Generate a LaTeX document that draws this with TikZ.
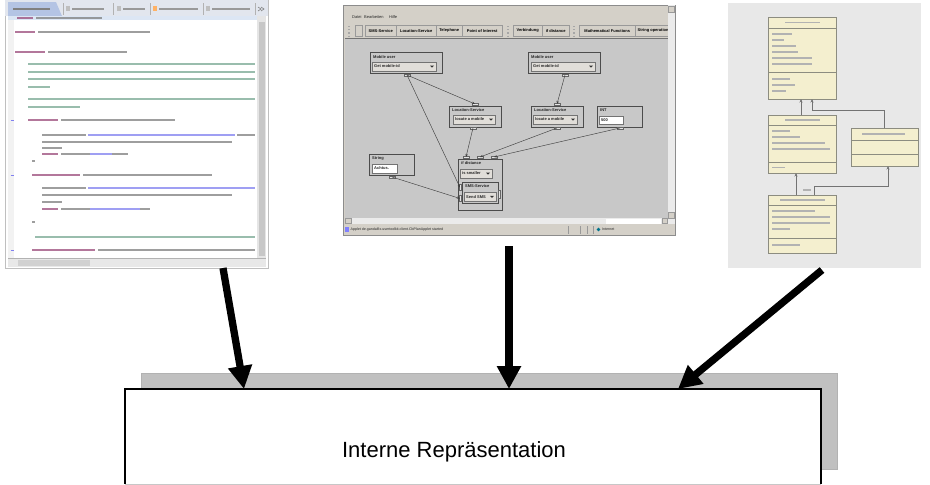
\documentclass[tikz,border=0pt]{standalone}
\usepackage{fontspec}
\setmainfont{Liberation Sans}
\usetikzlibrary{arrows.meta,calc}
\definecolor{cPur}{HTML}{9A4A7A}
\definecolor{cBlk}{HTML}{7E7E7E}
\definecolor{cGrn}{HTML}{78A892}
\definecolor{cBlu}{HTML}{8080F0}
\definecolor{winGray}{HTML}{D4D0C8}
\definecolor{canvasGray}{HTML}{C8C8C8}
\definecolor{umlFill}{HTML}{F4EFCF}
\definecolor{umlLine}{HTML}{8C8C80}
\definecolor{umlBg}{HTML}{E8E8E8}
\definecolor{shadowGray}{HTML}{C0C0C0}
\definecolor{tabBar}{HTML}{E2E6EE}
\definecolor{tabActive}{HTML}{B4C4E4}
\definecolor{editStrip}{HTML}{DCE6F4}
\newcommand\cbar[4]{\draw[codebar,#1] (#2,#4) -- (#3,#4);}
\newcommand\ubar[3]{\draw[umlbar] (#1,#3) -- (#2,#3);}
\newcommand\appcombo[6]{%
  \draw[combo] (#2,#3) rectangle (#4,#5);
  \node[tiny] (#1) at (#2+2,{(#3+#5)/2}) {#6};
  \fill[black!80] (#4-6,{(#3+#5)/2-1}) -- (#4-2,{(#3+#5)/2-1}) -- (#4-4,{(#3+#5)/2+1.2}) -- cycle;}
\begin{document}
\begin{tikzpicture}[x=1pt,y=-1pt,
  codebar/.style={line width=2pt, opacity=.75},
  tiny/.style={font=\fontsize{4}{4.5}\selectfont\bfseries, inner sep=0pt, anchor=west, text=black!85},
  abox/.style={draw=black!70, line width=0.8pt, fill=canvasGray, inner sep=0pt, outer sep=0pt, anchor=north west},
  combo/.style={draw=black!55, line width=0.4pt, fill=winGray!70!white},
  field/.style={draw=black!55, line width=0.4pt, fill=white},
  btn/.style={draw=black!40, line width=0.4pt, fill=winGray, inner sep=0pt, minimum height=11pt, anchor=north west, font=\fontsize{4}{4.5}\selectfont\bfseries},
  port/.style={draw=black!60, line width=0.3pt, fill=black!10},
  wire/.style={draw=black!75, line width=0.45pt, -{Stealth[length=3pt,width=2.4pt]}},
  umlbox/.style={draw=umlLine, line width=0.7pt, fill=umlFill, inner sep=0pt, outer sep=0pt, anchor=north west},
  umlbar/.style={line width=1.5pt, color=black!30},
  umlwire/.style={draw=black!55, line width=0.8pt, -{Stealth[length=3.5pt,width=3pt]}},
  bigarrow/.style={line width=7.3pt, -{Triangle[width=23pt,length=23pt]}},
  shot/.style={inner sep=0pt, outer sep=0pt, anchor=north west}]
\useasboundingbox (0,0) rectangle (930,485);
\begin{scope}
\clip (0,0) rectangle (930,485);
\fill[white] (0,0) rectangle (930,485);

% ================= left screenshot: code editor =================
\node[shot, draw=black!25, fill=white, minimum width=263pt, minimum height=268pt] (code) at (5,0) {};
\fill[tabBar] (5,0) rectangle (268,16);
\fill[tabActive] (8,2) -- (56,2) -- (62,16) -- (8,16) -- cycle;
\draw[line width=2.2pt, color=black!50] (13,9) -- (50,9);
\foreach \sx in {63,113,150,203,255} \draw[black!30, line width=0.6pt] (\sx,3) -- (\sx,15);
\fill[black!25] (66,6) rectangle (70,11); \draw[line width=1.8pt, black!40] (72,9) -- (104,9);
\fill[black!25] (117,6) rectangle (121,11); \draw[line width=1.8pt, black!40] (123,9) -- (145,9);
\fill[orange!60] (153,6) rectangle (157,11); \draw[line width=1.8pt, black!40] (159,9) -- (198,9);
\fill[black!25] (206,6) rectangle (210,11); \draw[line width=1.8pt, black!40] (212,9) -- (250,9);
\draw[black!50, line width=0.6pt] (258,7) -- (261,9) -- (258,11) (261,7) -- (264,9) -- (261,11);
\fill[editStrip] (8,16) rectangle (257,20);
\fill[black!5] (8,20) rectangle (14,258);
\fill[black!10] (257,16) rectangle (266,258);
\fill[black!22] (258.5,22) rectangle (264.5,256);
\fill[black!9] (8,258) rectangle (266,267);
\fill[black!18] (18,259.5) rectangle (90,265.5);
\draw[black!30, line width=0.4pt] (8,258) -- (266,258);
% code lines (greeked)
\cbar{cPur}{17}{33}{18}   \cbar{cBlk}{36}{102}{18}
\cbar{cPur}{15}{35}{32}   \cbar{cBlk}{38}{150}{32}
\cbar{cPur}{15}{45}{52}   \cbar{cBlk}{48}{127}{52}
\cbar{cGrn}{28}{255}{64}
\cbar{cGrn}{28}{255}{72}
\cbar{cGrn}{28}{255}{79}
\cbar{cGrn}{28}{50}{87}
\cbar{cGrn}{28}{255}{99}
\cbar{cGrn}{28}{80}{107}
\cbar{cPur}{28}{58}{120}  \cbar{cBlk}{61}{175}{120}
\cbar{cBlk}{42}{86}{135}  \cbar{cBlu}{88}{235}{135} \cbar{cBlk}{237}{255}{135}
\cbar{cBlk}{42}{232}{142}
\cbar{cBlk}{42}{62}{148}
\cbar{cPur}{42}{58}{154}  \cbar{cBlk}{61}{90}{154} \cbar{cBlu}{90}{112}{154} \cbar{cBlk}{112}{128}{154}
\cbar{cBlk}{32}{35}{161}
\cbar{cPur}{32}{80}{175}  \cbar{cBlk}{83}{212}{175}
\cbar{cBlk}{42}{86}{188}  \cbar{cBlu}{88}{255}{188}
\cbar{cBlk}{42}{232}{195}
\cbar{cBlk}{42}{62}{202}
\cbar{cPur}{42}{58}{209}  \cbar{cBlk}{61}{90}{209} \cbar{cBlu}{90}{140}{209} \cbar{cBlk}{140}{150}{209}
\cbar{cBlk}{32}{35}{222}
\cbar{cGrn}{35}{255}{237}
\cbar{cPur}{32}{95}{250}  \cbar{cBlk}{98}{255}{250}
\foreach \gy in {120,175,250} \draw[cBlu, line width=1pt] (10.5,\gy) -- (13.5,\gy);

% ================= middle screenshot: applet =================
\node[shot, draw=black!45, fill=winGray, minimum width=332pt, minimum height=230pt] (app) at (343,5) {};
\node[tiny, font=\fontsize{4}{4.5}\selectfont] (mDatei) at (352,17) {Datei};
\node[tiny, font=\fontsize{4}{4.5}\selectfont] (mBearb) at (364,17) {Bearbeiten};
\node[tiny, font=\fontsize{4}{4.5}\selectfont] (mHilfe) at (389,17) {Hilfe};
\foreach \gx in {349,508,574} \draw[black!35, line width=1.2pt, dotted] (\gx,26) -- (\gx,36);
\node[btn, minimum width=7pt] (bBlank) at (355,25) {};
\node[btn, minimum width=31pt] (bSMS) at (365,25) {SMS-Service};
\node[btn, minimum width=40pt] (bLoc) at (396,25) {Location-Service};
\node[btn, minimum width=26pt] (bTel) at (436,25) {Telephone};
\node[btn, minimum width=40pt] (bPoi) at (462,25) {Point of Interest};
\node[btn, minimum width=29pt] (bVer) at (513,25) {Verbindung};
\node[btn, minimum width=27pt] (bIfd) at (542,25) {if distance};
\node[btn, minimum width=56pt] (bMath) at (579,25) {Mathematical Functions};
\begin{scope}
\clip (635,24) rectangle (668,37);
\node[btn, minimum width=38pt, anchor=north west] (bStr) at (635,25) {String operations};
\end{scope}
\fill[canvasGray] (345,38) rectangle (668,218);
\draw[black!55, line width=0.5pt] (345,38) -- (668,38);
\fill[black!8] (668,5) rectangle (675,224);
\draw[black!40, line width=0.3pt, fill=winGray] (668.5,6) rectangle (674.5,12) (668.5,212) rectangle (674.5,218);
\fill[black!8] (345,218) rectangle (668,224);
\draw[black!40, line width=0.3pt, fill=winGray] (345.5,218.5) rectangle (351,223.5) (662,218.5) rectangle (667.5,223.5);
\fill[white] (606,219) rectangle (661,223.5);
% status bar
\fill[winGray] (344,225) rectangle (674,234.5);
\fill[blue!50] (345,227) rectangle (349,232);
\node[tiny, font=\fontsize{3.6}{4}\selectfont] (status) at (350.5,229.5) {Applet de.gandalfix.usertoolkit.client.CbPlanApplet started};
\foreach \px in {568,580,587,593} \draw[black!40, line width=0.4pt] (\px,226) -- (\px,234);
\fill[blue!55!green] (598.5,229.5) circle (1.8);
\node[tiny, font=\fontsize{3.6}{4}\selectfont] (inet) at (602,229.5) {Internet};

% applet nodes
\node[abox, minimum width=72pt, minimum height=21pt] (mu1) at (370,52) {};
\node[tiny] (mu1t) at (373,57) {Mobile user};
\appcombo{mu1c}{372}{62}{436}{71}{Get mobile-id}
\node[abox, minimum width=72pt, minimum height=21pt] (mu2) at (528,52) {};
\node[tiny] (mu2t) at (531,57) {Mobile user};
\appcombo{mu2c}{531}{62}{595}{71}{Get mobile-id}
\node[abox, minimum width=52pt, minimum height=21pt] (ls1) at (449,106) {};
\node[tiny] (ls1t) at (452,110.5) {Location-Service};
\appcombo{ls1c}{453}{115}{495}{124}{locate a mobile}
\node[abox, minimum width=52pt, minimum height=21pt] (ls2) at (531,106) {};
\node[tiny] (ls2t) at (534,110.5) {Location-Service};
\appcombo{ls2c}{533}{115}{577}{124}{locate a mobile}
\node[abox, minimum width=45pt, minimum height=21pt] (int) at (597,106) {};
\node[tiny] (intt) at (600,110.5) {INT};
\draw[field] (599,116) rectangle (623,124);
\node[tiny] (intv) at (601,120) {500};
\node[abox, minimum width=45pt, minimum height=21pt] (str) at (369,154) {};
\node[tiny] (strt) at (372,158.5) {String};
\draw[field] (372,164) rectangle (397,173);
\node[tiny] (strv) at (374,168.5) {Achtus.};
\node[abox, minimum width=44pt, minimum height=51pt] (ifd) at (458,159) {};
\node[tiny] (ifdt) at (461,163.5) {if distance};
\appcombo{ifdc}{460}{169}{492}{178}{is smaller}
\node[abox, minimum width=36pt, minimum height=21pt] (sms) at (462,182) {};
\node[tiny] (smst) at (465,186.5) {SMS-Service};
\appcombo{smsc}{464}{192}{496}{201.5}{Send SMS}
\draw[port] (498.5,190) rectangle (500,198);
% ports and wires
\coordinate (p1) at ($(mu1.south west)+(37,2)$);
\coordinate (p2) at ($(mu2.south west)+(37,2)$);
\coordinate (q1) at ($(ls1.north west)+(26,-2)$);
\coordinate (q2) at ($(ls2.north west)+(26,-2)$);
\coordinate (r1) at ($(ls1.south west)+(24,1)$);
\coordinate (r2) at ($(ls2.south west)+(26,1)$);
\coordinate (r3) at ($(int.south west)+(23,1)$);
\coordinate (s0) at ($(str.south west)+(23,2)$);
\coordinate (t1) at ($(ifd.north west)+(8,-2)$);
\coordinate (t2) at ($(ifd.north west)+(22,-2)$);
\coordinate (t3) at ($(ifd.north west)+(36,-2)$);
\coordinate (u1) at ($(sms.west)+(-2,-5)$);
\coordinate (u2) at ($(sms.west)+(-2,6)$);
\foreach \pp in {p1,p2,q1,q2,r1,r2,r3,s0,t1,t2,t3} \draw[port] ($(\pp)+(-3,-0.9)$) rectangle ($(\pp)+(3,0.9)$);
\foreach \pp in {u1,u2} \draw[port] ($(\pp)+(-0.9,-3)$) rectangle ($(\pp)+(0.9,3)$);
\draw[wire] (p1) -- (q1);
\draw[wire] (p1) -- (u1);
\draw[wire] (p2) -- (q2);
\draw[wire] (r1) -- (t1);
\draw[wire] (r2) -- (t2);
\draw[wire] (r3) -- (t3);
\draw[wire] (s0) -- (u2);

% ================= right screenshot: UML =================
\node[shot, fill=umlBg, minimum width=193pt, minimum height=265pt] (uml) at (728,3) {};
\node[umlbox, minimum width=68pt, minimum height=82pt] (ua) at (768,17) {};
\draw[umlLine, line width=0.6pt] (768,28) -- (836,28) (768,72) -- (836,72);
\ubar{785}{820}{22.5}
\ubar{772}{792}{34} \ubar{772}{784}{40} \ubar{772}{796}{46} \ubar{772}{798}{52} \ubar{772}{812}{58} \ubar{772}{812}{64}
\ubar{772}{790}{79} \ubar{772}{795}{85} \ubar{772}{786}{91}
\node[umlbox, minimum width=68pt, minimum height=58pt] (ub) at (768,115) {};
\draw[umlLine, line width=0.6pt] (768,125) -- (836,125) (768,162) -- (836,162);
\ubar{785}{820}{120}
\ubar{772}{790}{131} \ubar{772}{800}{137} \ubar{772}{825}{143} \ubar{772}{830}{149}
\ubar{772}{785}{167.5}
\node[umlbox, minimum width=67pt, minimum height=38pt] (uc) at (851,128) {};
\draw[umlLine, line width=0.6pt] (851,140) -- (918,140) (851,154) -- (918,154);
\ubar{862}{905}{134}
\node[umlbox, minimum width=68pt, minimum height=58pt] (ud) at (768,195) {};
\draw[umlLine, line width=0.6pt] (768,205) -- (836,205) (768,238) -- (836,238);
\ubar{780}{825}{200}
\ubar{772}{815}{211} \ubar{772}{830}{217} \ubar{772}{830}{223} \ubar{772}{790}{229}
\ubar{772}{800}{245}
\draw[umlwire] ($(ub.north west)+(33,0)$) -- ($(ua.south west)+(33,0)$);
\draw[umlwire] ($(uc.north west)+(33,0)$) -- ($(uc.north west)+(33,-18)$) -- ($(ua.south west)+(44,11)$) -- ($(ua.south west)+(44,0)$);
\draw[umlwire] ($(ud.north west)+(28,0)$) -- ($(ub.south west)+(28,0)$);
\draw[umlwire] ($(ud.north west)+(46,0)$) -- ($(ud.north west)+(46,-9)$) -- ($(uc.south west)+(37,20)$) -- ($(uc.south west)+(37,0)$);
\draw[line width=1.2pt, black!30] (803,190) -- (811,190);

% ================= bottom: internal representation =================
\fill[shadowGray] (141,373) rectangle (837,469);
\draw[black!30, line width=0.5pt] (141,373) rectangle (837,469);
\node[shot, fill=white, minimum width=696pt, minimum height=95pt] (rep) at (125,389) {};
\draw[black, line width=1.3pt] (rep.south west) -- (rep.north west) -- (rep.north east) -- (rep.south east);
\draw[black!22, line width=0.6pt] (rep.south west) -- (rep.south east);
\node[anchor=base, inner sep=0pt, font=\fontsize{22}{26}\selectfont] (reptext) at (454,457) {Interne Repräsentation};

% ================= big arrows =================
\coordinate (a1s) at ($(code.south west)+(218,0)$);
\coordinate (a1e) at ($(rep.north west)+(119,0)$);
\coordinate (a2s) at ($(app.south west)+(166,11)$);
\coordinate (a2e) at ($(rep.north west)+(384,0)$);
\coordinate (a3s) at ($(uml.south west)+(94,2)$);
\coordinate (a3e) at ($(rep.north west)+(553,0)$);
\draw[bigarrow] (a1s) -- (a1e);
\draw[bigarrow] (a2s) -- (a2e);
\draw[bigarrow] (a3s) -- (a3e);
\end{scope}
\end{tikzpicture}
\end{document}
